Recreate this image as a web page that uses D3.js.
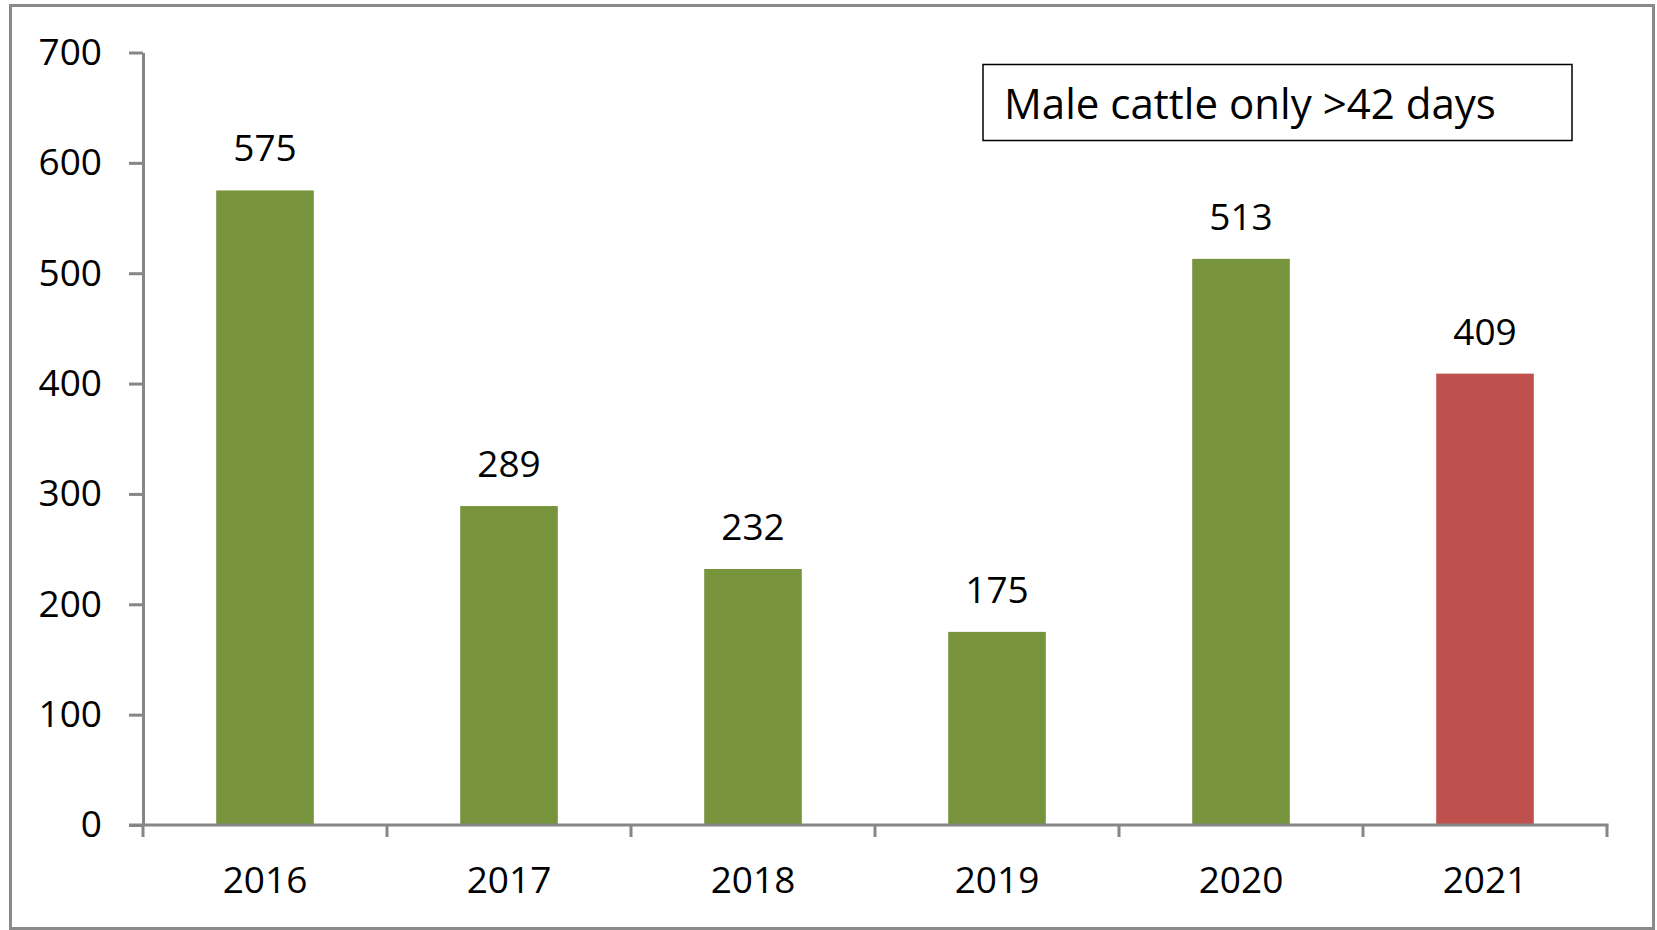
<!DOCTYPE html>
<html>
<head>
<meta charset="utf-8">
<script src="https://cdn.jsdelivr.net/npm/d3@7"></script>
<style>
  html, body { margin: 0; padding: 0; background: #fff; }
  svg { display: block; }
  text { font-family: "Open Sans", "DejaVu Sans", sans-serif; fill: #000; }
</style>
</head>
<body>
<svg id="chart" width="1657" height="930"></svg>
<script>
// data
var years = ["2016", "2017", "2018", "2019", "2020", "2021"];
var counts = [575, 289, 232, 175, 513, 409];
var barColors = ["#77933C", "#77933C", "#77933C", "#77933C", "#77933C", "#C0504D"];
var yTicks = [0, 100, 200, 300, 400, 500, 600, 700];
var note = "Male cattle only >42 days";

var svg = d3.select("#chart");
var axisColor = "#868686";

// outer frame
svg.append("rect")
    .attr("x", 10.5).attr("y", 5.5)
    .attr("width", 1643).attr("height", 923)
    .attr("fill", "none").attr("stroke", "#8a8a8a").attr("stroke-width", 3);

var plot = { left: 143, right: 1607, top: 52.5, bottom: 825 };

var x = d3.scaleBand()
    .domain(years)
    .range([plot.left, plot.right])
    .paddingInner(0.6)
    .paddingOuter(0.3);

var y = d3.scaleLinear()
    .domain([0, 700])
    .range([plot.bottom, plot.top]);

// bars
svg.append("g").selectAll("rect")
    .data(years)
    .join("rect")
    .attr("x", function(d) { return x(d); })
    .attr("width", x.bandwidth())
    .attr("y", function(d, i) { return y(counts[i]); })
    .attr("height", function(d, i) { return y(0) - y(counts[i]); })
    .attr("fill", function(d, i) { return barColors[i]; });

// y axis
var yAxis = svg.append("g")
    .attr("transform", "translate(" + plot.left + ",0)")
    .call(d3.axisLeft(y).tickValues(yTicks).tickSize(14).tickSizeOuter(0).tickPadding(27));
yAxis.selectAll("path, line").attr("stroke", axisColor).attr("stroke-width", 3);
yAxis.selectAll("text")
    .attr("font-size", 37)
    .attr("fill", "#111")
    .style("font-family", '"Open Sans", sans-serif');

// x axis line + ticks at category boundaries
var xg = svg.append("g");
xg.append("line")
    .attr("x1", plot.left - 14).attr("x2", plot.right + 1.5)
    .attr("y1", y(0)).attr("y2", y(0))
    .attr("stroke", axisColor).attr("stroke-width", 3);
var gap = (x.step() - x.bandwidth()) / 2;
var bounds = years.map(function(d) { return x(d) - gap; }).concat([plot.right]);
xg.selectAll("line.tick")
    .data(bounds)
    .join("line")
    .attr("class", "tick")
    .attr("x1", function(d) { return d; }).attr("x2", function(d) { return d; })
    .attr("y1", y(0)).attr("y2", y(0) + 12)
    .attr("stroke", axisColor).attr("stroke-width", 3);
xg.selectAll("text")
    .data(years)
    .join("text")
    .attr("x", function(d) { return x(d) + x.bandwidth() / 2; })
    .attr("y", y(0) + 68)
    .attr("text-anchor", "middle")
    .attr("font-size", 37)
    .attr("fill", "#111")
    .text(function(d) { return d; });

// value labels
svg.append("g").selectAll("text")
    .data(years)
    .join("text")
    .attr("x", function(d) { return x(d) + x.bandwidth() / 2; })
    .attr("y", function(d, i) { return y(counts[i]) - 29; })
    .attr("text-anchor", "middle")
    .attr("font-size", 37)
    .attr("fill", "#111")
    .text(function(d, i) { return counts[i]; });

// note box
svg.append("rect")
    .attr("x", 983).attr("y", 64.5)
    .attr("width", 589).attr("height", 76)
    .attr("fill", "#fff").attr("stroke", "#000").attr("stroke-width", 1.5);
var noteText = svg.append("text")
    .attr("x", 1004).attr("y", 119)
    .attr("font-size", 44)
    .text(note);
// shrink/grow the font so the line spans the same width as the original
var w = noteText.node().getComputedTextLength();
noteText.attr("font-size", 44 * 492 / w);
</script>
</body>
</html>
